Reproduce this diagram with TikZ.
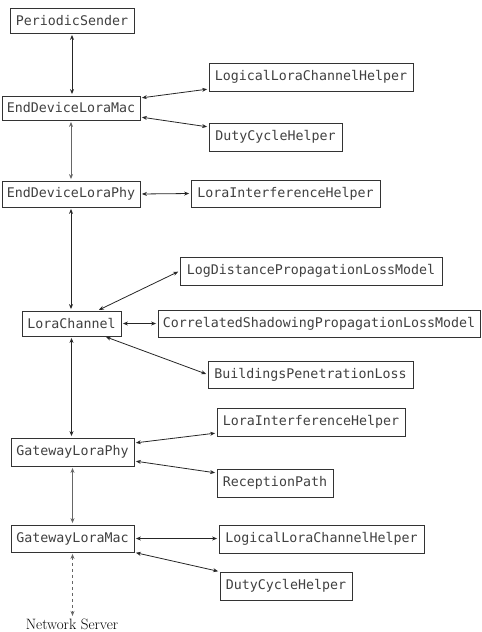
\documentclass[tikz,border=0pt]{standalone}
\usepackage{fontspec}
\newfontfamily\boxfont{DejaVu Sans Mono}
\usetikzlibrary{arrows.meta}
\begin{document}
\begin{tikzpicture}[x=1pt,y=-1pt,
  cls/.style={draw=black!80, line width=0.8pt, text=black!75, inner sep=0pt,
    font=\boxfont\fontsize{13.3}{16}\selectfont, anchor=center},
  link/.style={<->, line width=0.8pt, draw=black!85, shorten <=1.5pt, shorten >=1.5pt},
  >={Stealth[length=5pt,width=4pt]}]
\useasboundingbox (0,0) rectangle (482,632);
\node[cls, minimum width=124pt, minimum height=25pt] (ps) at (72,20.5) {PeriodicSender};
\node[cls, minimum width=138pt, minimum height=24pt] (edmac) at (71,108) {EndDeviceLoraMac};
\node[cls, minimum width=138pt, minimum height=26pt] (edphy) at (71,194) {EndDeviceLoraPhy};
\node[cls, minimum width=204pt, minimum height=28pt] (llch1) at (311,77) {LogicalLoraChannelHelper};
\node[cls, minimum width=133pt, minimum height=28pt] (dch1) at (275.5,137) {DutyCycleHelper};
\node[cls, minimum width=189pt, minimum height=27pt] (lih1) at (285.5,193.5) {LoraInterferenceHelper};
\node[cls, minimum width=262pt, minimum height=28pt] (logd) at (311,271) {LogDistancePropagationLossModel};
\node[cls, minimum width=99pt, minimum height=25pt] (lc) at (71.5,323.5) {LoraChannel};
\node[cls, minimum width=322pt, minimum height=27pt] (corr) at (319,323.5) {CorrelatedShadowingPropagationLossModel};
\node[cls, minimum width=205pt, minimum height=27pt] (bpl) at (310.5,374.5) {BuildingsPenetrationLoss};
\node[cls, minimum width=188pt, minimum height=28pt] (lih2) at (311,422) {LoraInterferenceHelper};
\node[cls, minimum width=123pt, minimum height=28pt] (gphy) at (72.5,452) {GatewayLoraPhy};
\node[cls, minimum width=116pt, minimum height=28pt] (rp) at (275,483) {ReceptionPath};
\node[cls, minimum width=123pt, minimum height=27pt] (gmac) at (72.5,538.5) {GatewayLoraMac};
\node[cls, minimum width=205pt, minimum height=28pt] (llch2) at (321.5,539) {LogicalLoraChannelHelper};
\node[cls, minimum width=132pt, minimum height=28pt] (dch2) at (286,586) {DutyCycleHelper};
\node[font=\fontsize{15}{18}\selectfont, inner sep=1pt] (ns) at (72,624) {Network Server};

\draw[link, line width=0.95pt] (ps.south) -- (ps.south |- edmac.north);
\draw[link, draw=black!60] (edmac.south) -- (edmac.south |- edphy.north);
\draw[link, line width=0.95pt] (edphy.south) -- (edphy.south |- lc.north);
\draw[link, line width=0.95pt] (lc.south) -- (lc.south |- gphy.north);
\draw[link, draw=black!60] (gphy.south) -- (gphy.south |- gmac.north);
\draw[link, dashed, draw=black!60] (gmac.south) -- (gmac.south |- ns.north);

\draw[link] ([yshift=10pt]edmac.east) -- ([yshift=-12pt]llch1.west);
\draw[link] ([yshift=-9pt]edmac.east) -- ([yshift=10pt]dch1.west);
\draw[link] (edphy.east) -- (lih1.west);
\draw[link] ([xshift=26pt]lc.north) -- (logd.west);
\draw[link, line width=0.95pt] (lc.east) -- (lc.east -| corr.west);
\draw[link] ([xshift=33pt]lc.south) -- (bpl.west);
\draw[link] ([yshift=9pt]gphy.east) -- ([yshift=-11pt]lih2.west);
\draw[link] ([yshift=-9pt]gphy.east) -- ([yshift=10pt]rp.west);
\draw[link] (gmac.east) -- (gmac.east -| llch2.west);
\draw[link] (gmac.south east) -- (dch2.north west);
\end{tikzpicture}
\end{document}
